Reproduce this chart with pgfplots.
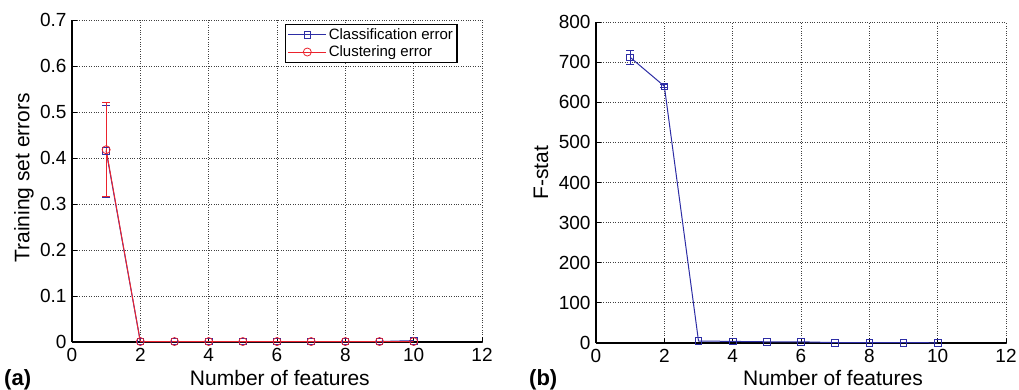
\documentclass[border=0pt]{standalone}
\usepackage{fontspec}
\setmainfont{Liberation Sans}
\usepackage{pgfplots}
\pgfplotsset{compat=1.18}
\definecolor{cblue}{RGB}{45,45,165}
\definecolor{cred}{RGB}{235,35,45}
\pgfplotsset{mystyle/.style={
 scale only axis, width=410pt,
 axis x line*=bottom, axis y line*=left,
 xmin=0, xmax=12, xtick={0,2,4,6,8,10,12},
 grid=major, grid style={black!75, dotted, line width=0.9pt},
 major tick length=5pt,
 tick style={black, line width=1pt}, tick align=inside,
 axis line style={line width=1.4pt, -},
 tick label style={font=\fontsize{19}{21}\selectfont},
 xticklabel style={yshift=-3pt},
 yticklabel style={xshift=-2pt},
 label style={font=\fontsize{21}{24}\selectfont},
 /pgf/number format/assume math mode=true,
 every axis plot/.append style={line width=1pt},
 legend image code/.code={\draw[mark repeat=2,mark phase=2] plot coordinates {(0pt,0pt)(19pt,0pt)(38pt,0pt)};},
}}
\begin{document}
\begin{tikzpicture}
\useasboundingbox (0pt,0pt) rectangle (1019pt,389pt);
\begin{axis}[mystyle, height=322pt, at={(72pt,47pt)}, anchor=south west,
  ymin=0, ymax=0.7, ytick={0,0.1,0.2,0.3,0.4,0.5,0.6,0.7},
  yticklabel style={/pgf/number format/fixed, /pgf/number format/precision=1},
  xlabel={Number of features}, ylabel={Training set errors},
  xlabel style={at={(axis description cs:0.507,0)}, anchor=base, yshift=-43pt},
  ylabel style={at={(axis description cs:-0.117,0.51)}, anchor=center},
  legend style={at={(axis description cs:0.52,0.988)}, anchor=north west, draw=black, line width=1.2pt,
    font=\fontsize{15}{17}\selectfont, row sep=1pt, inner sep=2pt, fill=white},
  legend cell align=left]
\addplot[color=cblue, mark=square, mark size=3.3pt, mark options={line width=0.8pt},
  error bars/.cd, y dir=both, y explicit, error mark options={rotate=90, mark size=4pt, line width=1pt}]
  coordinates {(1,0.415) +- (0,0.1) (2,0.001) (3,0.001) (4,0.001) (5,0.001) (6,0.001) (7,0.001) (8,0.001) (9,0.001) (10,0.003)};
\addlegendentry{Classification error}
\addplot[color=cred, mark=o, mark size=4pt, mark options={line width=0.8pt},
  error bars/.cd, y dir=both, y explicit, error mark options={rotate=90, mark size=4pt, line width=1pt}]
  coordinates {(1,0.418) +- (0,0.102) (2,0.001) (3,0.001) (4,0.001) (5,0.001) (6,0.001) (7,0.001) (8,0.001) (9,0.001) (10,0.001)};
\addlegendentry{Clustering error}
\end{axis}
\begin{axis}[mystyle, height=321pt, at={(596pt,46pt)}, anchor=south west,
  ymin=0, ymax=800, ytick={0,100,...,800},
  xlabel={Number of features}, ylabel={F-stat},
  xlabel style={at={(axis description cs:0.578,0)}, anchor=base, yshift=-42pt},
  ylabel style={at={(axis description cs:-0.134,0.53)}, anchor=center}]
\addplot[color=cblue, mark=square, mark size=3.3pt, mark options={line width=0.8pt},
  error bars/.cd, y dir=both, y explicit, error mark options={rotate=90, mark size=4pt, line width=1pt}]
  coordinates {(1,712) +- (0,18) (2,640) +- (0,3) (3,5) (4,4) (5,3) (6,3) (7,1) (8,1) (9,1) (10,0.5)};
\end{axis}
\node[anchor=base west, font=\fontsize{22}{24}\selectfont\bfseries, inner sep=0pt] at (4pt,4pt) {(a)};
\node[anchor=base west, font=\fontsize{22}{24}\selectfont\bfseries, inner sep=0pt] at (529pt,4pt) {(b)};
\end{tikzpicture}
\end{document}
